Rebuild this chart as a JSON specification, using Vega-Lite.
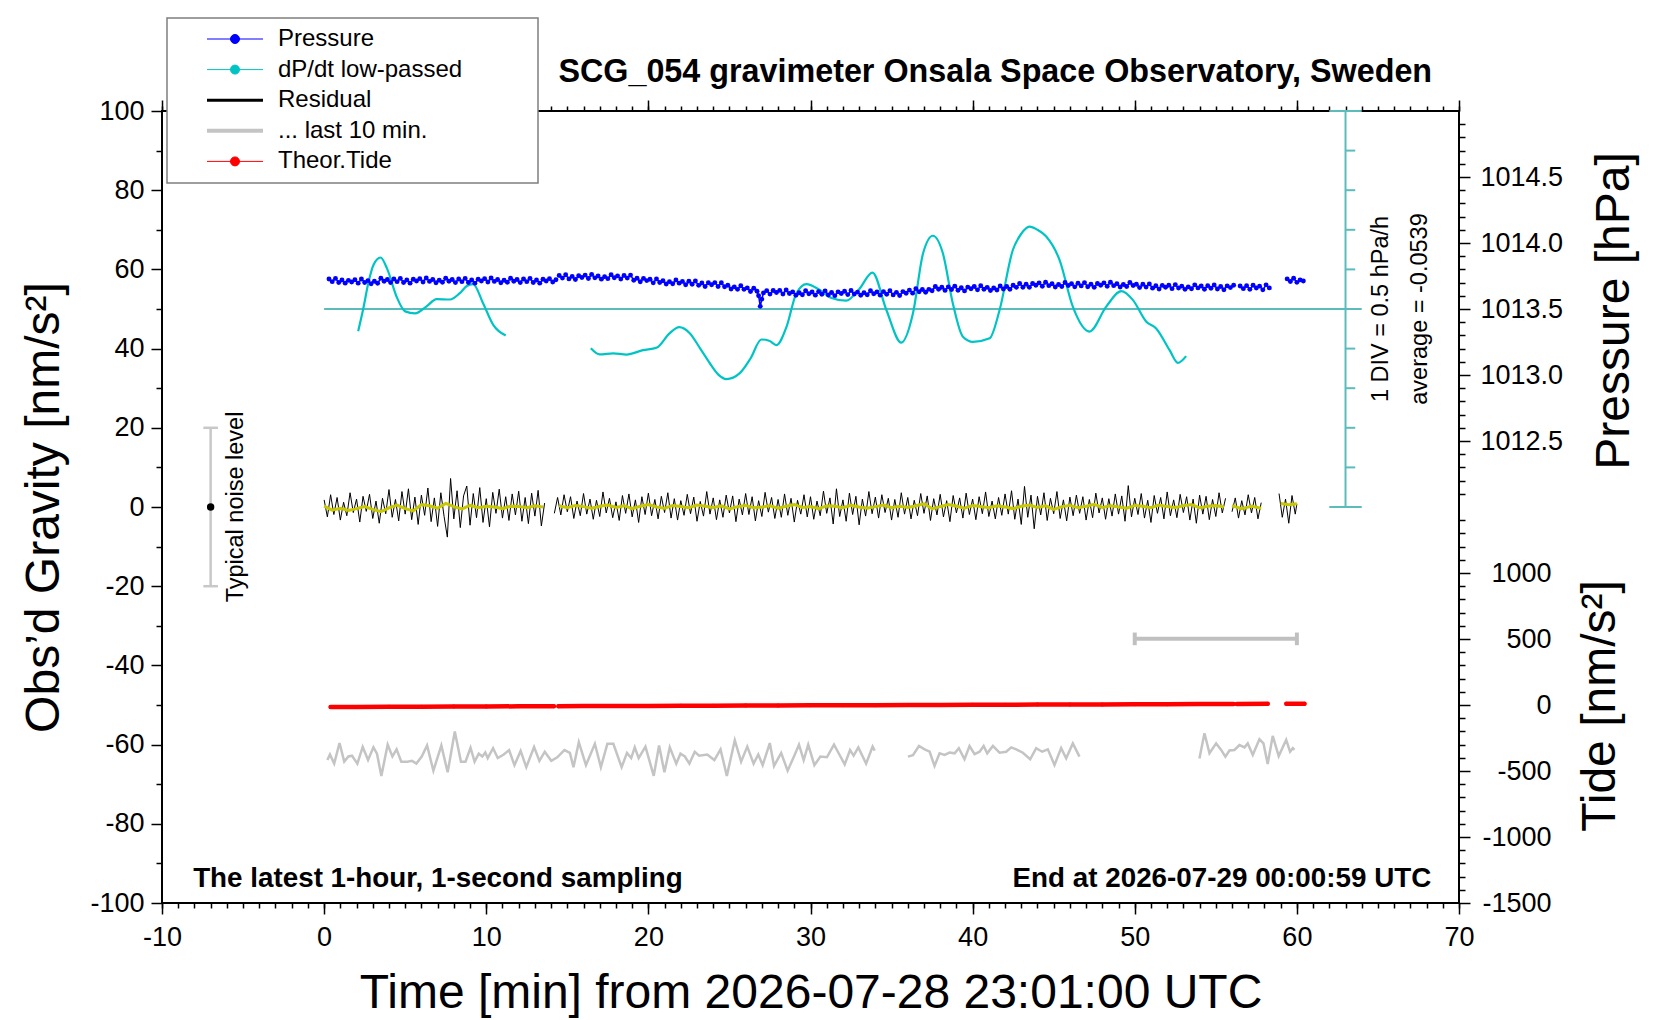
{
  "$schema": "https://vega.github.io/schema/vega-lite/v6.json",
  "width": 1297,
  "height": 792,
  "autosize": {"type": "none"},
  "padding": {"left": 162, "top": 111, "right": 201, "bottom": 117},
  "background": "white",
  "config": {
    "view": {"stroke": "black", "strokeWidth": 2},
    "font": "Liberation Sans",
    "axis": {
      "domain": false, "grid": false, "tickColor": "black", "tickWidth": 1.5,
      "labelFont": "Liberation Sans", "labelFontSize": 27, "labelColor": "black",
      "titleFont": "Liberation Sans", "titleFontSize": 48, "titleFontWeight": "normal", "titleColor": "black",
      "labelFlush": false, "labelOverlap": false
    },
    "legend": {
      "orient": "none", "legendX": 5, "legendY": -93, "padding": 9,
      "fillColor": "white", "strokeColor": "#7f7f7f", "strokeWidth": 1.5,
      "labelFont": "Liberation Sans", "labelFontSize": 24, "labelColor": "black", "labelLimit": 400,
      "symbolSize": 400, "symbolOffset": 47, "labelOffset": 31, "rowPadding": 6.6
    }
  },
  "resolve": {
    "scale": {"x": "shared", "y": "independent", "color": "shared"},
    "axis": {"x": "independent", "y": "independent"}
  },
  "datasets": {
    "cyanScale": [
      {"x": 0, "x2": 64, "y": 50, "y2": 50},
      {"x": 62, "x2": 64, "y": 0, "y2": 0},
      {"x": 62, "x2": 64, "y": 100, "y2": 100},
      {"x": 63, "x2": 63, "y": 0, "y2": 100},
      {"x": 63, "x2": 63.6, "y": 10, "y2": 10},
      {"x": 63, "x2": 63.6, "y": 20, "y2": 20},
      {"x": 63, "x2": 63.6, "y": 30, "y2": 30},
      {"x": 63, "x2": 63.6, "y": 40, "y2": 40},
      {"x": 63, "x2": 63.6, "y": 60, "y2": 60},
      {"x": 63, "x2": 63.6, "y": 70, "y2": 70},
      {"x": 63, "x2": 63.6, "y": 80, "y2": 80},
      {"x": 63, "x2": 63.6, "y": 90, "y2": 90}
    ],
    "dpdt": [
      {"t": 2.1, "v": -0.28, "s": 1}, {"t": 2.41, "v": 0, "s": 1}, {"t": 2.75, "v": 0.35, "s": 1}, {"t": 3.05, "v": 0.56, "s": 1},
      {"t": 3.48, "v": 0.65, "s": 1}, {"t": 3.9, "v": 0.5, "s": 1}, {"t": 4.47, "v": 0.155, "s": 1}, {"t": 5.0, "v": -0.03, "s": 1},
      {"t": 5.6, "v": -0.055, "s": 1}, {"t": 6.3, "v": 0.03, "s": 1}, {"t": 6.94, "v": 0.125, "s": 1}, {"t": 7.76, "v": 0.12, "s": 1},
      {"t": 8.37, "v": 0.2, "s": 1}, {"t": 8.8, "v": 0.29, "s": 1}, {"t": 9.19, "v": 0.315, "s": 1}, {"t": 9.81, "v": 0.07, "s": 1},
      {"t": 10.43, "v": -0.2, "s": 1}, {"t": 11.2, "v": -0.335, "s": 1},
      {"t": 16.45, "v": -0.495, "s": 2}, {"t": 17.0, "v": -0.573, "s": 2}, {"t": 17.83, "v": -0.56, "s": 2}, {"t": 18.65, "v": -0.575, "s": 2},
      {"t": 19.67, "v": -0.52, "s": 2}, {"t": 20.5, "v": -0.49, "s": 2}, {"t": 21.32, "v": -0.305, "s": 2}, {"t": 21.9, "v": -0.23, "s": 2},
      {"t": 22.55, "v": -0.305, "s": 2}, {"t": 23.2, "v": -0.5, "s": 2}, {"t": 23.79, "v": -0.685, "s": 2}, {"t": 24.3, "v": -0.825, "s": 2},
      {"t": 24.82, "v": -0.885, "s": 2}, {"t": 25.64, "v": -0.81, "s": 2}, {"t": 26.3, "v": -0.625, "s": 2}, {"t": 26.97, "v": -0.385, "s": 2},
      {"t": 27.45, "v": -0.4, "s": 2}, {"t": 27.9, "v": -0.455, "s": 2}, {"t": 28.52, "v": -0.225, "s": 2}, {"t": 29.13, "v": 0.2, "s": 2},
      {"t": 29.75, "v": 0.315, "s": 2}, {"t": 30.57, "v": 0.24, "s": 2}, {"t": 31.3, "v": 0.14, "s": 2}, {"t": 32.2, "v": 0.105, "s": 2},
      {"t": 33.0, "v": 0.25, "s": 2}, {"t": 33.82, "v": 0.46, "s": 2}, {"t": 34.68, "v": -0.013, "s": 2}, {"t": 35.6, "v": -0.425, "s": 2},
      {"t": 36.32, "v": -0.055, "s": 2}, {"t": 36.94, "v": 0.7, "s": 2}, {"t": 37.55, "v": 0.925, "s": 2}, {"t": 38.17, "v": 0.7, "s": 2},
      {"t": 38.78, "v": 0.07, "s": 2}, {"t": 39.4, "v": -0.35, "s": 2}, {"t": 40.02, "v": -0.415, "s": 2}, {"t": 41.05, "v": -0.37, "s": 2},
      {"t": 41.66, "v": -0.015, "s": 2}, {"t": 42.48, "v": 0.745, "s": 2}, {"t": 43.0, "v": 0.95, "s": 2}, {"t": 43.5, "v": 1.04, "s": 2},
      {"t": 44.0, "v": 1.0, "s": 2}, {"t": 44.54, "v": 0.915, "s": 2}, {"t": 45.36, "v": 0.62, "s": 2}, {"t": 46.18, "v": 0.03, "s": 2},
      {"t": 47.21, "v": -0.285, "s": 2}, {"t": 48.24, "v": 0.03, "s": 2}, {"t": 49.17, "v": 0.225, "s": 2}, {"t": 49.88, "v": 0.115, "s": 2},
      {"t": 50.71, "v": -0.16, "s": 2}, {"t": 51.32, "v": -0.245, "s": 2}, {"t": 52.15, "v": -0.52, "s": 2}, {"t": 52.66, "v": -0.68, "s": 2},
      {"t": 53.17, "v": -0.595, "s": 2}
    ],
    "pres": [
      {"t": 0.3, "p": 1013.727, "s": 1}, {"t": 0.5, "p": 1013.707, "s": 1}, {"t": 0.7, "p": 1013.732, "s": 1}, {"t": 0.9, "p": 1013.701, "s": 1},
      {"t": 1.1, "p": 1013.72, "s": 1}, {"t": 1.3, "p": 1013.696, "s": 1}, {"t": 1.5, "p": 1013.717, "s": 1}, {"t": 1.7, "p": 1013.704, "s": 1},
      {"t": 1.9, "p": 1013.722, "s": 1}, {"t": 2.1, "p": 1013.696, "s": 1}, {"t": 2.3, "p": 1013.727, "s": 1}, {"t": 2.5, "p": 1013.701, "s": 1},
      {"t": 2.7, "p": 1013.715, "s": 1}, {"t": 2.9, "p": 1013.691, "s": 1}, {"t": 3.1, "p": 1013.71, "s": 1}, {"t": 3.3, "p": 1013.695, "s": 1},
      {"t": 3.5, "p": 1013.733, "s": 1}, {"t": 3.7, "p": 1013.71, "s": 1}, {"t": 3.9, "p": 1013.724, "s": 1}, {"t": 4.1, "p": 1013.7, "s": 1},
      {"t": 4.3, "p": 1013.727, "s": 1}, {"t": 4.5, "p": 1013.707, "s": 1}, {"t": 4.7, "p": 1013.732, "s": 1}, {"t": 4.9, "p": 1013.701, "s": 1},
      {"t": 5.1, "p": 1013.72, "s": 1}, {"t": 5.3, "p": 1013.696, "s": 1}, {"t": 5.5, "p": 1013.725, "s": 1}, {"t": 5.7, "p": 1013.712, "s": 1},
      {"t": 5.9, "p": 1013.73, "s": 1}, {"t": 6.1, "p": 1013.704, "s": 1}, {"t": 6.3, "p": 1013.735, "s": 1}, {"t": 6.5, "p": 1013.709, "s": 1},
      {"t": 6.7, "p": 1013.723, "s": 1}, {"t": 6.9, "p": 1013.699, "s": 1}, {"t": 7.1, "p": 1013.718, "s": 1}, {"t": 7.3, "p": 1013.703, "s": 1},
      {"t": 7.5, "p": 1013.733, "s": 1}, {"t": 7.7, "p": 1013.71, "s": 1}, {"t": 7.9, "p": 1013.724, "s": 1}, {"t": 8.1, "p": 1013.7, "s": 1},
      {"t": 8.3, "p": 1013.727, "s": 1}, {"t": 8.5, "p": 1013.707, "s": 1}, {"t": 8.7, "p": 1013.732, "s": 1}, {"t": 8.9, "p": 1013.701, "s": 1},
      {"t": 9.1, "p": 1013.72, "s": 1}, {"t": 9.3, "p": 1013.696, "s": 1}, {"t": 9.5, "p": 1013.725, "s": 1}, {"t": 9.7, "p": 1013.712, "s": 1},
      {"t": 9.9, "p": 1013.73, "s": 1}, {"t": 10.1, "p": 1013.704, "s": 1}, {"t": 10.3, "p": 1013.735, "s": 1}, {"t": 10.5, "p": 1013.709, "s": 1},
      {"t": 10.7, "p": 1013.723, "s": 1}, {"t": 10.9, "p": 1013.699, "s": 1}, {"t": 11.1, "p": 1013.718, "s": 1}, {"t": 11.3, "p": 1013.703, "s": 1},
      {"t": 11.5, "p": 1013.733, "s": 1}, {"t": 11.7, "p": 1013.71, "s": 1}, {"t": 11.9, "p": 1013.724, "s": 1}, {"t": 12.1, "p": 1013.7, "s": 1},
      {"t": 12.3, "p": 1013.727, "s": 1}, {"t": 12.5, "p": 1013.707, "s": 1}, {"t": 12.7, "p": 1013.732, "s": 1}, {"t": 12.9, "p": 1013.701, "s": 1},
      {"t": 13.1, "p": 1013.72, "s": 1}, {"t": 13.3, "p": 1013.696, "s": 1}, {"t": 13.5, "p": 1013.725, "s": 1}, {"t": 13.7, "p": 1013.712, "s": 1},
      {"t": 13.9, "p": 1013.73, "s": 1}, {"t": 14.1, "p": 1013.704, "s": 1}, {"t": 14.3, "p": 1013.722, "s": 1},
      {"t": 14.5, "p": 1013.754, "s": 2}, {"t": 14.7, "p": 1013.734, "s": 2}, {"t": 14.9, "p": 1013.759, "s": 2}, {"t": 15.1, "p": 1013.728, "s": 2},
      {"t": 15.3, "p": 1013.747, "s": 2}, {"t": 15.5, "p": 1013.723, "s": 2}, {"t": 15.7, "p": 1013.752, "s": 2}, {"t": 15.9, "p": 1013.739, "s": 2},
      {"t": 16.1, "p": 1013.757, "s": 2}, {"t": 16.3, "p": 1013.731, "s": 2}, {"t": 16.5, "p": 1013.762, "s": 2}, {"t": 16.7, "p": 1013.736, "s": 2},
      {"t": 16.9, "p": 1013.75, "s": 2}, {"t": 17.1, "p": 1013.726, "s": 2}, {"t": 17.3, "p": 1013.745, "s": 2}, {"t": 17.5, "p": 1013.73, "s": 2},
      {"t": 17.7, "p": 1013.76, "s": 2}, {"t": 17.9, "p": 1013.737, "s": 2}, {"t": 18.1, "p": 1013.751, "s": 2}, {"t": 18.3, "p": 1013.727, "s": 2},
      {"t": 18.5, "p": 1013.754, "s": 2}, {"t": 18.7, "p": 1013.734, "s": 2}, {"t": 18.9, "p": 1013.757, "s": 2}, {"t": 19.1, "p": 1013.718, "s": 2},
      {"t": 19.3, "p": 1013.733, "s": 2}, {"t": 19.5, "p": 1013.706, "s": 2}, {"t": 19.7, "p": 1013.732, "s": 2}, {"t": 19.9, "p": 1013.715, "s": 2},
      {"t": 20.1, "p": 1013.725, "s": 2}, {"t": 20.3, "p": 1013.698, "s": 2}, {"t": 20.5, "p": 1013.728, "s": 2}, {"t": 20.7, "p": 1013.701, "s": 2},
      {"t": 20.9, "p": 1013.714, "s": 2}, {"t": 21.1, "p": 1013.689, "s": 2}, {"t": 21.3, "p": 1013.707, "s": 2}, {"t": 21.5, "p": 1013.691, "s": 2},
      {"t": 21.7, "p": 1013.72, "s": 2}, {"t": 21.9, "p": 1013.696, "s": 2}, {"t": 22.1, "p": 1013.709, "s": 2}, {"t": 22.3, "p": 1013.684, "s": 2},
      {"t": 22.5, "p": 1013.71, "s": 2}, {"t": 22.7, "p": 1013.688, "s": 2}, {"t": 22.9, "p": 1013.712, "s": 2}, {"t": 23.1, "p": 1013.679, "s": 2},
      {"t": 23.3, "p": 1013.697, "s": 2}, {"t": 23.5, "p": 1013.671, "s": 2}, {"t": 23.7, "p": 1013.699, "s": 2}, {"t": 23.9, "p": 1013.684, "s": 2},
      {"t": 24.1, "p": 1013.7, "s": 2}, {"t": 24.3, "p": 1013.671, "s": 2}, {"t": 24.5, "p": 1013.699, "s": 2}, {"t": 24.7, "p": 1013.669, "s": 2},
      {"t": 24.9, "p": 1013.68, "s": 2}, {"t": 25.1, "p": 1013.652, "s": 2}, {"t": 25.3, "p": 1013.668, "s": 2}, {"t": 25.5, "p": 1013.649, "s": 2},
      {"t": 25.7, "p": 1013.676, "s": 2}, {"t": 25.9, "p": 1013.649, "s": 2}, {"t": 26.1, "p": 1013.66, "s": 2}, {"t": 26.3, "p": 1013.633, "s": 2},
      {"t": 26.5, "p": 1013.657, "s": 2}, {"t": 26.7, "p": 1013.634, "s": 2}, {"t": 26.8, "p": 1013.6, "s": 2}, {"t": 26.9, "p": 1013.52, "s": 2},
      {"t": 27.0, "p": 1013.575, "s": 2}, {"t": 27.1, "p": 1013.622, "s": 2}, {"t": 27.3, "p": 1013.639, "s": 2}, {"t": 27.5, "p": 1013.613, "s": 2},
      {"t": 27.7, "p": 1013.64, "s": 2}, {"t": 27.9, "p": 1013.625, "s": 2}, {"t": 28.1, "p": 1013.641, "s": 2}, {"t": 28.3, "p": 1013.614, "s": 2},
      {"t": 28.5, "p": 1013.644, "s": 2}, {"t": 28.7, "p": 1013.617, "s": 2}, {"t": 28.9, "p": 1013.63, "s": 2}, {"t": 29.1, "p": 1013.604, "s": 2},
      {"t": 29.3, "p": 1013.623, "s": 2}, {"t": 29.5, "p": 1013.608, "s": 2}, {"t": 29.7, "p": 1013.638, "s": 2}, {"t": 29.9, "p": 1013.615, "s": 2},
      {"t": 30.1, "p": 1013.629, "s": 2}, {"t": 30.3, "p": 1013.605, "s": 2},
      {"t": 30.5, "p": 1013.632, "s": 2}, {"t": 30.7, "p": 1013.612, "s": 2}, {"t": 30.9, "p": 1013.637, "s": 2}, {"t": 31.1, "p": 1013.606, "s": 2},
      {"t": 31.3, "p": 1013.625, "s": 2}, {"t": 31.5, "p": 1013.601, "s": 2}, {"t": 31.7, "p": 1013.63, "s": 2}, {"t": 31.9, "p": 1013.617, "s": 2},
      {"t": 32.1, "p": 1013.635, "s": 2}, {"t": 32.3, "p": 1013.609, "s": 2}, {"t": 32.5, "p": 1013.64, "s": 2}, {"t": 32.7, "p": 1013.614, "s": 2},
      {"t": 32.9, "p": 1013.628, "s": 2}, {"t": 33.1, "p": 1013.604, "s": 2}, {"t": 33.3, "p": 1013.623, "s": 2}, {"t": 33.5, "p": 1013.608, "s": 2},
      {"t": 33.7, "p": 1013.638, "s": 2}, {"t": 33.9, "p": 1013.615, "s": 2}, {"t": 34.1, "p": 1013.629, "s": 2}, {"t": 34.3, "p": 1013.605, "s": 2},
      {"t": 34.5, "p": 1013.632, "s": 2}, {"t": 34.7, "p": 1013.612, "s": 2}, {"t": 34.9, "p": 1013.638, "s": 2}, {"t": 35.1, "p": 1013.607, "s": 2},
      {"t": 35.3, "p": 1013.626, "s": 2}, {"t": 35.5, "p": 1013.602, "s": 2}, {"t": 35.7, "p": 1013.632, "s": 2}, {"t": 35.9, "p": 1013.619, "s": 2},
      {"t": 36.1, "p": 1013.643, "s": 2}, {"t": 36.3, "p": 1013.62, "s": 2}, {"t": 36.5, "p": 1013.654, "s": 2}, {"t": 36.7, "p": 1013.631, "s": 2},
      {"t": 36.9, "p": 1013.648, "s": 2}, {"t": 37.1, "p": 1013.627, "s": 2}, {"t": 37.3, "p": 1013.649, "s": 2}, {"t": 37.5, "p": 1013.638, "s": 2},
      {"t": 37.7, "p": 1013.671, "s": 2}, {"t": 37.9, "p": 1013.65, "s": 2}, {"t": 38.1, "p": 1013.665, "s": 2}, {"t": 38.3, "p": 1013.641, "s": 2},
      {"t": 38.5, "p": 1013.668, "s": 2}, {"t": 38.7, "p": 1013.648, "s": 2}, {"t": 38.9, "p": 1013.673, "s": 2}, {"t": 39.1, "p": 1013.642, "s": 2},
      {"t": 39.3, "p": 1013.661, "s": 2}, {"t": 39.5, "p": 1013.637, "s": 2}, {"t": 39.7, "p": 1013.666, "s": 2}, {"t": 39.9, "p": 1013.653, "s": 2},
      {"t": 40.1, "p": 1013.671, "s": 2}, {"t": 40.3, "p": 1013.645, "s": 2}, {"t": 40.5, "p": 1013.676, "s": 2}, {"t": 40.7, "p": 1013.65, "s": 2},
      {"t": 40.9, "p": 1013.664, "s": 2}, {"t": 41.1, "p": 1013.64, "s": 2}, {"t": 41.3, "p": 1013.659, "s": 2}, {"t": 41.5, "p": 1013.644, "s": 2},
      {"t": 41.7, "p": 1013.674, "s": 2}, {"t": 41.9, "p": 1013.651, "s": 2}, {"t": 42.1, "p": 1013.671, "s": 2}, {"t": 42.3, "p": 1013.65, "s": 2},
      {"t": 42.5, "p": 1013.68, "s": 2}, {"t": 42.7, "p": 1013.664, "s": 2}, {"t": 42.9, "p": 1013.693, "s": 2}, {"t": 43.1, "p": 1013.665, "s": 2},
      {"t": 43.3, "p": 1013.687, "s": 2}, {"t": 43.5, "p": 1013.664, "s": 2}, {"t": 43.7, "p": 1013.693, "s": 2}, {"t": 43.9, "p": 1013.68, "s": 2},
      {"t": 44.1, "p": 1013.698, "s": 2}, {"t": 44.3, "p": 1013.672, "s": 2}, {"t": 44.5, "p": 1013.703, "s": 2}, {"t": 44.7, "p": 1013.677, "s": 2},
      {"t": 44.9, "p": 1013.691, "s": 2}, {"t": 45.1, "p": 1013.667, "s": 2}, {"t": 45.3, "p": 1013.686, "s": 2}, {"t": 45.5, "p": 1013.671, "s": 2},
      {"t": 45.7, "p": 1013.701, "s": 2}, {"t": 45.9, "p": 1013.678, "s": 2}, {"t": 46.1, "p": 1013.692, "s": 2}, {"t": 46.3, "p": 1013.668, "s": 2},
      {"t": 46.5, "p": 1013.695, "s": 2}, {"t": 46.7, "p": 1013.675, "s": 2}, {"t": 46.9, "p": 1013.7, "s": 2}, {"t": 47.1, "p": 1013.669, "s": 2},
      {"t": 47.3, "p": 1013.688, "s": 2}, {"t": 47.5, "p": 1013.664, "s": 2}, {"t": 47.7, "p": 1013.693, "s": 2}, {"t": 47.9, "p": 1013.68, "s": 2},
      {"t": 48.1, "p": 1013.698, "s": 2}, {"t": 48.3, "p": 1013.672, "s": 2}, {"t": 48.5, "p": 1013.703, "s": 2}, {"t": 48.7, "p": 1013.677, "s": 2},
      {"t": 48.9, "p": 1013.691, "s": 2}, {"t": 49.1, "p": 1013.667, "s": 2}, {"t": 49.3, "p": 1013.686, "s": 2}, {"t": 49.5, "p": 1013.671, "s": 2},
      {"t": 49.7, "p": 1013.701, "s": 2}, {"t": 49.9, "p": 1013.678, "s": 2}, {"t": 50.1, "p": 1013.688, "s": 2}, {"t": 50.3, "p": 1013.662, "s": 2},
      {"t": 50.5, "p": 1013.687, "s": 2}, {"t": 50.7, "p": 1013.666, "s": 2}, {"t": 50.9, "p": 1013.69, "s": 2}, {"t": 51.1, "p": 1013.658, "s": 2},
      {"t": 51.3, "p": 1013.676, "s": 2}, {"t": 51.5, "p": 1013.651, "s": 2}, {"t": 51.7, "p": 1013.679, "s": 2}, {"t": 51.9, "p": 1013.665, "s": 2},
      {"t": 52.1, "p": 1013.68, "s": 2}, {"t": 52.3, "p": 1013.654, "s": 2}, {"t": 52.5, "p": 1013.685, "s": 2}, {"t": 52.7, "p": 1013.659, "s": 2},
      {"t": 52.9, "p": 1013.673, "s": 2}, {"t": 53.1, "p": 1013.649, "s": 2}, {"t": 53.3, "p": 1013.668, "s": 2}, {"t": 53.5, "p": 1013.653, "s": 2},
      {"t": 53.7, "p": 1013.683, "s": 2}, {"t": 53.9, "p": 1013.66, "s": 2}, {"t": 54.1, "p": 1013.674, "s": 2}, {"t": 54.3, "p": 1013.65, "s": 2},
      {"t": 54.5, "p": 1013.677, "s": 2}, {"t": 54.7, "p": 1013.657, "s": 2}, {"t": 54.9, "p": 1013.682, "s": 2}, {"t": 55.1, "p": 1013.651, "s": 2},
      {"t": 55.3, "p": 1013.67, "s": 2}, {"t": 55.5, "p": 1013.646, "s": 2}, {"t": 55.7, "p": 1013.675, "s": 2}, {"t": 55.9, "p": 1013.662, "s": 2},
      {"t": 56.1, "p": 1013.68, "s": 2},
      {"t": 56.5, "p": 1013.674, "s": 3}, {"t": 56.7, "p": 1013.654, "s": 3}, {"t": 56.9, "p": 1013.677, "s": 3}, {"t": 57.1, "p": 1013.649, "s": 3},
      {"t": 57.3, "p": 1013.68, "s": 3}, {"t": 57.5, "p": 1013.659, "s": 3}, {"t": 57.7, "p": 1013.673, "s": 3}, {"t": 57.9, "p": 1013.645, "s": 3},
      {"t": 58.1, "p": 1013.683, "s": 3}, {"t": 58.3, "p": 1013.66, "s": 3},
      {"t": 59.4, "p": 1013.728, "s": 4}, {"t": 59.6, "p": 1013.708, "s": 4}, {"t": 59.8, "p": 1013.733, "s": 4}, {"t": 60.0, "p": 1013.702, "s": 4},
      {"t": 60.2, "p": 1013.721, "s": 4}, {"t": 60.4, "p": 1013.712, "s": 4}
    ],
    "res": [
      {"t": 0, "r": 1.8, "s": 1}, {"t": 0.2, "r": -2.5, "s": 1}, {"t": 0.4, "r": 3.1, "s": 1}, {"t": 0.6, "r": -1.9, "s": 1}, {"t": 0.8, "r": 2.4, "s": 1},
      {"t": 1, "r": -3.3, "s": 1}, {"t": 1.2, "r": 1.2, "s": 1}, {"t": 1.4, "r": -2.2, "s": 1}, {"t": 1.6, "r": 3.6, "s": 1}, {"t": 1.8, "r": -1.4, "s": 1},
      {"t": 2, "r": 2, "s": 1}, {"t": 2.2, "r": -3.8, "s": 1}, {"t": 2.4, "r": 2.7, "s": 1}, {"t": 2.6, "r": -1.1, "s": 1}, {"t": 2.8, "r": 3.2, "s": 1},
      {"t": 3, "r": -2.9, "s": 1}, {"t": 3.2, "r": 1.5, "s": 1}, {"t": 3.4, "r": -4.1, "s": 1}, {"t": 3.6, "r": 2.2, "s": 1}, {"t": 3.8, "r": -1.7, "s": 1},
      {"t": 4, "r": 4.4, "s": 1}, {"t": 4.2, "r": -2.6, "s": 1}, {"t": 4.4, "r": 1.9, "s": 1}, {"t": 4.6, "r": -3.5, "s": 1}, {"t": 4.8, "r": 3.9, "s": 1},
      {"t": 5, "r": -1.8, "s": 1}, {"t": 5.2, "r": 4.6, "s": 1}, {"t": 5.4, "r": -3.2, "s": 1}, {"t": 5.6, "r": 2.5, "s": 1}, {"t": 5.8, "r": -4.4, "s": 1},
      {"t": 6, "r": 3, "s": 1}, {"t": 6.2, "r": -2.1, "s": 1}, {"t": 6.4, "r": 4.8, "s": 1}, {"t": 6.6, "r": -3.7, "s": 1}, {"t": 6.8, "r": 2.3, "s": 1},
      {"t": 7, "r": -4.9, "s": 1}, {"t": 7.2, "r": 3.6, "s": 1}, {"t": 7.4, "r": -2.4, "s": 1}, {"t": 7.6, "r": -7.6, "s": 1}, {"t": 7.8, "r": 7.2, "s": 1},
      {"t": 8, "r": -3, "s": 1}, {"t": 8.2, "r": 4.1, "s": 1}, {"t": 8.4, "r": -5.2, "s": 1}, {"t": 8.6, "r": 2.8, "s": 1}, {"t": 8.8, "r": 5.3, "s": 1},
      {"t": 9, "r": -4.6, "s": 1}, {"t": 9.2, "r": 3.4, "s": 1}, {"t": 9.4, "r": -2.7, "s": 1}, {"t": 9.6, "r": 4.9, "s": 1}, {"t": 9.8, "r": -3.9, "s": 1},
      {"t": 10, "r": 2.1, "s": 1}, {"t": 10.2, "r": -5, "s": 1}, {"t": 10.4, "r": 3.7, "s": 1}, {"t": 10.6, "r": -1.6, "s": 1}, {"t": 10.8, "r": 4.5, "s": 1},
      {"t": 11, "r": -2.8, "s": 1}, {"t": 11.2, "r": 2.6, "s": 1}, {"t": 11.4, "r": -3.4, "s": 1}, {"t": 11.6, "r": 3.3, "s": 1}, {"t": 11.8, "r": -2, "s": 1},
      {"t": 12, "r": 4, "s": 1}, {"t": 12.2, "r": -3.6, "s": 1}, {"t": 12.4, "r": 2.4, "s": 1}, {"t": 12.6, "r": -4.2, "s": 1}, {"t": 12.8, "r": 3.5, "s": 1},
      {"t": 13, "r": -2.3, "s": 1}, {"t": 13.2, "r": 4.2, "s": 1}, {"t": 13.4, "r": -4.8, "s": 1}, {"t": 13.6, "r": 1, "s": 1},
      {"t": 14.2, "r": -1.6, "s": 2}, {"t": 14.4, "r": 2.4, "s": 2}, {"t": 14.6, "r": -2.0, "s": 2}, {"t": 14.8, "r": 3.1, "s": 2}, {"t": 15.0, "r": -1.2, "s": 2},
      {"t": 15.2, "r": 2.6, "s": 2}, {"t": 15.4, "r": -2.9, "s": 2}, {"t": 15.6, "r": 1.5, "s": 2}, {"t": 15.8, "r": -2.2, "s": 2}, {"t": 16.0, "r": 3.4, "s": 2},
      {"t": 16.2, "r": -1.8, "s": 2}, {"t": 16.4, "r": 2.0, "s": 2}, {"t": 16.6, "r": -3.1, "s": 2}, {"t": 16.8, "r": 1.7, "s": 2}, {"t": 17.0, "r": -2.4, "s": 2},
      {"t": 17.2, "r": 3.8, "s": 2}, {"t": 17.4, "r": -1.5, "s": 2}, {"t": 17.6, "r": 2.2, "s": 2}, {"t": 17.8, "r": -2.7, "s": 2}, {"t": 18.0, "r": 1.3, "s": 2},
      {"t": 18.2, "r": -3.4, "s": 2}, {"t": 18.4, "r": 2.9, "s": 2}, {"t": 18.6, "r": -1.6, "s": 2}, {"t": 18.8, "r": 3.3, "s": 2}, {"t": 19.0, "r": -2.5, "s": 2},
      {"t": 19.2, "r": 1.8, "s": 2}, {"t": 19.4, "r": -3.9, "s": 2}, {"t": 19.6, "r": 2.6, "s": 2}, {"t": 19.8, "r": -1.9, "s": 2}, {"t": 20.0, "r": 3.5, "s": 2},
      {"t": 20.2, "r": -2.2, "s": 2}, {"t": 20.4, "r": 1.9, "s": 2}, {"t": 20.6, "r": -3.0, "s": 2}, {"t": 20.8, "r": 2.7, "s": 2}, {"t": 21.0, "r": -1.4, "s": 2},
      {"t": 21.2, "r": 3.6, "s": 2}, {"t": 21.4, "r": -2.8, "s": 2}, {"t": 21.6, "r": 2.1, "s": 2}, {"t": 21.8, "r": -3.3, "s": 2}, {"t": 22.0, "r": 1.6, "s": 2},
      {"t": 22.2, "r": -2.1, "s": 2}, {"t": 22.4, "r": 3.2, "s": 2}, {"t": 22.6, "r": -1.7, "s": 2}, {"t": 22.8, "r": 2.5, "s": 2}, {"t": 23.0, "r": -3.6, "s": 2},
      {"t": 23.2, "r": 1.4, "s": 2}, {"t": 23.4, "r": -2.3, "s": 2}, {"t": 23.6, "r": 3.9, "s": 2}, {"t": 23.8, "r": -1.8, "s": 2}, {"t": 24.0, "r": 2.3, "s": 2},
      {"t": 24.2, "r": -3.2, "s": 2}, {"t": 24.4, "r": 1.8, "s": 2}, {"t": 24.6, "r": -2.6, "s": 2}, {"t": 24.8, "r": 3.0, "s": 2}, {"t": 25.0, "r": -1.5, "s": 2},
      {"t": 25.2, "r": 2.8, "s": 2}, {"t": 25.4, "r": -3.7, "s": 2}, {"t": 25.6, "r": 2.0, "s": 2}, {"t": 25.8, "r": -2.0, "s": 2}, {"t": 26.0, "r": 3.4, "s": 2},
      {"t": 26.2, "r": -1.9, "s": 2}, {"t": 26.4, "r": 2.6, "s": 2}, {"t": 26.6, "r": -3.5, "s": 2}, {"t": 26.8, "r": 1.6, "s": 2}, {"t": 27.0, "r": -2.4, "s": 2},
      {"t": 27.2, "r": 3.7, "s": 2}, {"t": 27.4, "r": -1.3, "s": 2}, {"t": 27.6, "r": 2.4, "s": 2}, {"t": 27.8, "r": -2.9, "s": 2}, {"t": 28.0, "r": 1.9, "s": 2},
      {"t": 28.2, "r": -2.6, "s": 2}, {"t": 28.4, "r": 3.3, "s": 2}, {"t": 28.6, "r": -2.1, "s": 2}, {"t": 28.8, "r": 2.2, "s": 2}, {"t": 29.0, "r": -3.8, "s": 2},
      {"t": 29.2, "r": 1.7, "s": 2}, {"t": 29.4, "r": -1.8, "s": 2}, {"t": 29.6, "r": 3.1, "s": 2}, {"t": 29.8, "r": -2.5, "s": 2}, {"t": 30.0, "r": 2.6, "s": 2},
      {"t": 30.2, "r": -3.1, "s": 2}, {"t": 30.4, "r": 1.5, "s": 2}, {"t": 30.6, "r": -2.2, "s": 2}, {"t": 30.8, "r": 4.0, "s": 2}, {"t": 31.0, "r": -1.6, "s": 2},
      {"t": 31.2, "r": 2.3, "s": 2}, {"t": 31.4, "r": -4.3, "s": 2}, {"t": 31.6, "r": 4.6, "s": 2}, {"t": 31.8, "r": -2.4, "s": 2}, {"t": 32.0, "r": 1.8, "s": 2},
      {"t": 32.2, "r": -3.6, "s": 2}, {"t": 32.4, "r": 3.5, "s": 2}, {"t": 32.6, "r": -1.9, "s": 2}, {"t": 32.8, "r": 2.7, "s": 2}, {"t": 33.0, "r": -4.5, "s": 2},
      {"t": 33.2, "r": 2.0, "s": 2}, {"t": 33.4, "r": -2.3, "s": 2}, {"t": 33.6, "r": 3.9, "s": 2}, {"t": 33.8, "r": -1.7, "s": 2}, {"t": 34.0, "r": 2.5, "s": 2},
      {"t": 34.2, "r": -2.8, "s": 2}, {"t": 34.4, "r": 3.1, "s": 2}, {"t": 34.6, "r": -1.4, "s": 2}, {"t": 34.8, "r": 2.2, "s": 2}, {"t": 35.0, "r": -3.3, "s": 2},
      {"t": 35.2, "r": 1.9, "s": 2}, {"t": 35.4, "r": -2.6, "s": 2}, {"t": 35.6, "r": 3.6, "s": 2}, {"t": 35.8, "r": -1.8, "s": 2}, {"t": 36.0, "r": 2.4, "s": 2},
      {"t": 36.2, "r": -3.0, "s": 2}, {"t": 36.4, "r": 1.7, "s": 2}, {"t": 36.6, "r": -2.2, "s": 2}, {"t": 36.8, "r": 3.4, "s": 2}, {"t": 37.0, "r": -1.6, "s": 2},
      {"t": 37.2, "r": 2.8, "s": 2}, {"t": 37.4, "r": -3.4, "s": 2}, {"t": 37.6, "r": 2.1, "s": 2}, {"t": 37.8, "r": -2.0, "s": 2}, {"t": 38.0, "r": 3.2, "s": 2},
      {"t": 38.2, "r": -2.5, "s": 2}, {"t": 38.4, "r": 1.6, "s": 2}, {"t": 38.6, "r": -3.7, "s": 2}, {"t": 38.8, "r": 2.9, "s": 2}, {"t": 39.0, "r": -1.5, "s": 2},
      {"t": 39.2, "r": 2.3, "s": 2}, {"t": 39.4, "r": -2.8, "s": 2}, {"t": 39.6, "r": 3.5, "s": 2}, {"t": 39.8, "r": -1.9, "s": 2}, {"t": 40.0, "r": 2.0, "s": 2},
      {"t": 40.2, "r": -3.2, "s": 2}, {"t": 40.4, "r": 2.6, "s": 2}, {"t": 40.6, "r": -1.7, "s": 2}, {"t": 40.8, "r": 3.8, "s": 2}, {"t": 41.0, "r": -2.4, "s": 2},
      {"t": 41.2, "r": 1.5, "s": 2}, {"t": 41.4, "r": -3.0, "s": 2}, {"t": 41.6, "r": 2.4, "s": 2}, {"t": 41.8, "r": -2.1, "s": 2}, {"t": 42.0, "r": 3.3, "s": 2},
      {"t": 42.2, "r": -1.8, "s": 2}, {"t": 42.4, "r": 4.1, "s": 2}, {"t": 42.6, "r": -3.1, "s": 2}, {"t": 42.8, "r": 2.0, "s": 2}, {"t": 43.0, "r": -4.4, "s": 2},
      {"t": 43.2, "r": 5.2, "s": 2}, {"t": 43.4, "r": -2.6, "s": 2}, {"t": 43.6, "r": 3.0, "s": 2}, {"t": 43.8, "r": -5.5, "s": 2}, {"t": 44.0, "r": 2.7, "s": 2},
      {"t": 44.2, "r": -2.0, "s": 2}, {"t": 44.4, "r": 3.6, "s": 2}, {"t": 44.6, "r": -3.4, "s": 2}, {"t": 44.8, "r": 2.2, "s": 2}, {"t": 45.0, "r": -1.7, "s": 2},
      {"t": 45.2, "r": 3.9, "s": 2}, {"t": 45.4, "r": -2.9, "s": 2}, {"t": 45.6, "r": 1.8, "s": 2}, {"t": 45.8, "r": -3.5, "s": 2}, {"t": 46.0, "r": 2.5, "s": 2},
      {"t": 46.2, "r": -2.2, "s": 2}, {"t": 46.4, "r": 3.0, "s": 2}, {"t": 46.6, "r": -1.6, "s": 2}, {"t": 46.8, "r": 2.6, "s": 2}, {"t": 47.0, "r": -3.3, "s": 2},
      {"t": 47.2, "r": 1.9, "s": 2}, {"t": 47.4, "r": -2.7, "s": 2}, {"t": 47.6, "r": 3.5, "s": 2}, {"t": 47.8, "r": -1.5, "s": 2}, {"t": 48.0, "r": 2.3, "s": 2},
      {"t": 48.2, "r": -3.1, "s": 2}, {"t": 48.4, "r": 2.1, "s": 2}, {"t": 48.6, "r": -2.3, "s": 2}, {"t": 48.8, "r": 3.3, "s": 2}, {"t": 49.0, "r": -1.8, "s": 2},
      {"t": 49.2, "r": 2.8, "s": 2}, {"t": 49.4, "r": -3.6, "s": 2}, {"t": 49.6, "r": 5.4, "s": 2}, {"t": 49.8, "r": -2.5, "s": 2}, {"t": 50.0, "r": 2.2, "s": 2},
      {"t": 50.2, "r": -1.9, "s": 2}, {"t": 50.4, "r": 3.4, "s": 2}, {"t": 50.6, "r": -2.8, "s": 2}, {"t": 50.8, "r": 1.7, "s": 2}, {"t": 51.0, "r": -3.9, "s": 2},
      {"t": 51.2, "r": 2.9, "s": 2}, {"t": 51.4, "r": -1.6, "s": 2}, {"t": 51.6, "r": 2.4, "s": 2}, {"t": 51.8, "r": -3.0, "s": 2}, {"t": 52.0, "r": 3.8, "s": 2},
      {"t": 52.2, "r": -2.2, "s": 2}, {"t": 52.4, "r": 1.8, "s": 2}, {"t": 52.6, "r": -2.7, "s": 2}, {"t": 52.8, "r": 3.2, "s": 2}, {"t": 53.0, "r": -1.4, "s": 2},
      {"t": 53.2, "r": 2.6, "s": 2}, {"t": 53.4, "r": -3.3, "s": 2}, {"t": 53.6, "r": 2.0, "s": 2}, {"t": 53.8, "r": -4.1, "s": 2}, {"t": 54.0, "r": 3.0, "s": 2},
      {"t": 54.2, "r": -1.8, "s": 2}, {"t": 54.4, "r": 2.7, "s": 2}, {"t": 54.6, "r": -3.2, "s": 2}, {"t": 54.8, "r": 1.9, "s": 2}, {"t": 55.0, "r": -2.4, "s": 2},
      {"t": 55.2, "r": 3.6, "s": 2}, {"t": 55.4, "r": -1.5, "s": 2}, {"t": 55.6, "r": 2.2, "s": 2},
      {"t": 56.0, "r": -1.2, "s": 3}, {"t": 56.2, "r": 2.3, "s": 3}, {"t": 56.4, "r": -2.8, "s": 3}, {"t": 56.6, "r": 1.6, "s": 3}, {"t": 56.8, "r": -2.0, "s": 3},
      {"t": 57.0, "r": 3.1, "s": 3}, {"t": 57.2, "r": -1.5, "s": 3}, {"t": 57.4, "r": 2.4, "s": 3}, {"t": 57.6, "r": -3.0, "s": 3}, {"t": 57.8, "r": 1.1, "s": 3},
      {"t": 58.9, "r": 3.4, "s": 4}, {"t": 59.1, "r": -2.6, "s": 4}, {"t": 59.3, "r": 2.0, "s": 4}, {"t": 59.5, "r": -4.1, "s": 4}, {"t": 59.7, "r": 2.9, "s": 4},
      {"t": 59.9, "r": -1.8, "s": 4}, {"t": 60.0, "r": 0.8, "s": 4}
    ],
    "yel": [
      {"t": 0, "r": 0.2, "s": 1}, {"t": 0.5, "r": -0.8, "s": 1}, {"t": 1, "r": -0.3, "s": 1}, {"t": 1.5, "r": -0.9, "s": 1}, {"t": 2, "r": -0.4, "s": 1},
      {"t": 2.5, "r": 0.1, "s": 1}, {"t": 3, "r": -0.6, "s": 1}, {"t": 3.5, "r": -1.2, "s": 1}, {"t": 4, "r": -0.2, "s": 1}, {"t": 4.5, "r": 0.5, "s": 1},
      {"t": 5, "r": -0.4, "s": 1}, {"t": 5.5, "r": -1.0, "s": 1}, {"t": 6, "r": 0.6, "s": 1}, {"t": 6.5, "r": 0.3, "s": 1}, {"t": 7, "r": -0.3, "s": 1},
      {"t": 7.5, "r": 0.9, "s": 1}, {"t": 8, "r": 0.1, "s": 1}, {"t": 8.5, "r": -0.5, "s": 1}, {"t": 9, "r": 0.4, "s": 1}, {"t": 9.5, "r": -0.2, "s": 1},
      {"t": 10, "r": 0.2, "s": 1}, {"t": 10.5, "r": 0.0, "s": 1}, {"t": 11, "r": -0.4, "s": 1}, {"t": 11.5, "r": 0.2, "s": 1}, {"t": 12, "r": 0.1, "s": 1},
      {"t": 12.5, "r": -0.2, "s": 1}, {"t": 13, "r": 0.3, "s": 1}, {"t": 13.5, "r": 0.0, "s": 1},
      {"t": 14.5, "r": 0.3, "s": 2}, {"t": 15, "r": -0.2, "s": 2}, {"t": 15.5, "r": 0.4, "s": 2}, {"t": 16, "r": 0.1, "s": 2}, {"t": 16.5, "r": -0.3, "s": 2},
      {"t": 17, "r": 0.2, "s": 2}, {"t": 17.5, "r": 0.5, "s": 2}, {"t": 18, "r": -0.1, "s": 2}, {"t": 18.5, "r": 0.3, "s": 2}, {"t": 19, "r": -0.4, "s": 2},
      {"t": 19.5, "r": 0.2, "s": 2}, {"t": 20, "r": 0.6, "s": 2}, {"t": 20.5, "r": 0.0, "s": 2}, {"t": 21, "r": -0.3, "s": 2}, {"t": 21.5, "r": 0.4, "s": 2},
      {"t": 22, "r": 0.1, "s": 2}, {"t": 22.5, "r": -0.2, "s": 2}, {"t": 23, "r": 0.5, "s": 2}, {"t": 23.5, "r": 0.2, "s": 2}, {"t": 24, "r": -0.1, "s": 2},
      {"t": 24.5, "r": 0.3, "s": 2}, {"t": 25, "r": -0.5, "s": 2}, {"t": 25.5, "r": 0.1, "s": 2}, {"t": 26, "r": 0.4, "s": 2}, {"t": 26.5, "r": -0.2, "s": 2},
      {"t": 27, "r": 0.0, "s": 2}, {"t": 27.5, "r": 0.3, "s": 2}, {"t": 28, "r": -0.3, "s": 2}, {"t": 28.5, "r": 0.2, "s": 2}, {"t": 29, "r": 0.6, "s": 2},
      {"t": 29.5, "r": -0.1, "s": 2}, {"t": 30, "r": 0.1, "s": 2}, {"t": 30.5, "r": -0.4, "s": 2}, {"t": 31, "r": 0.3, "s": 2}, {"t": 31.5, "r": 0.2, "s": 2},
      {"t": 32, "r": -0.2, "s": 2}, {"t": 32.5, "r": 0.4, "s": 2}, {"t": 33, "r": 0.0, "s": 2}, {"t": 33.5, "r": -0.3, "s": 2}, {"t": 34, "r": 0.1, "s": 2},
      {"t": 34.5, "r": 0.5, "s": 2}, {"t": 35, "r": -0.2, "s": 2}, {"t": 35.5, "r": 0.2, "s": 2}, {"t": 36, "r": -0.1, "s": 2}, {"t": 36.5, "r": 0.3, "s": 2},
      {"t": 37, "r": 0.8, "s": 2}, {"t": 37.5, "r": -0.4, "s": 2}, {"t": 38, "r": 0.1, "s": 2}, {"t": 38.5, "r": 0.6, "s": 2}, {"t": 39, "r": 0.2, "s": 2},
      {"t": 39.5, "r": -0.3, "s": 2}, {"t": 40, "r": 0.4, "s": 2}, {"t": 40.5, "r": 0.1, "s": 2}, {"t": 41, "r": -0.2, "s": 2}, {"t": 41.5, "r": 0.3, "s": 2},
      {"t": 42, "r": 0.0, "s": 2}, {"t": 42.5, "r": -0.4, "s": 2}, {"t": 43, "r": 0.2, "s": 2}, {"t": 43.5, "r": 0.5, "s": 2}, {"t": 44, "r": -0.1, "s": 2},
      {"t": 44.5, "r": 0.3, "s": 2}, {"t": 45, "r": -0.6, "s": 2}, {"t": 45.5, "r": 0.1, "s": 2}, {"t": 46, "r": 0.4, "s": 2}, {"t": 46.5, "r": -0.2, "s": 2},
      {"t": 47, "r": 0.2, "s": 2}, {"t": 47.5, "r": 0.7, "s": 2}, {"t": 48, "r": -0.1, "s": 2}, {"t": 48.5, "r": 0.3, "s": 2}, {"t": 49, "r": 0.0, "s": 2},
      {"t": 49.5, "r": -0.3, "s": 2}, {"t": 50, "r": 0.4, "s": 2}, {"t": 50.5, "r": 0.2, "s": 2}, {"t": 51, "r": -0.2, "s": 2}, {"t": 51.5, "r": 0.5, "s": 2},
      {"t": 52, "r": 0.1, "s": 2}, {"t": 52.5, "r": -0.1, "s": 2}, {"t": 53, "r": 0.3, "s": 2}, {"t": 53.5, "r": 0.6, "s": 2}, {"t": 54, "r": -0.2, "s": 2},
      {"t": 54.5, "r": 0.2, "s": 2}, {"t": 55, "r": 0.4, "s": 2}, {"t": 55.5, "r": 0.0, "s": 2},
      {"t": 56.0, "r": 0.3, "s": 3}, {"t": 56.6, "r": -0.4, "s": 3}, {"t": 57.2, "r": 0.2, "s": 3}, {"t": 57.8, "r": -0.3, "s": 3},
      {"t": 59.0, "r": 0.9, "s": 4}, {"t": 59.5, "r": 0.6, "s": 4}, {"t": 60.0, "r": 0.8, "s": 4}
    ],
    "last": [
      {"t": 0.2, "g": -63.9, "s": 1}, {"t": 0.36, "g": -62.5, "s": 1}, {"t": 0.62, "g": -64.8, "s": 1}, {"t": 0.95, "g": -59.6, "s": 1},
      {"t": 1.24, "g": -64.3, "s": 1}, {"t": 1.5, "g": -63, "s": 1}, {"t": 1.72, "g": -62.8, "s": 1}, {"t": 2.05, "g": -64.8, "s": 1},
      {"t": 2.38, "g": -60.6, "s": 1}, {"t": 2.71, "g": -63.9, "s": 1}, {"t": 3.04, "g": -60.7, "s": 1}, {"t": 3.26, "g": -62.3, "s": 1},
      {"t": 3.53, "g": -67.9, "s": 1}, {"t": 3.92, "g": -60, "s": 1}, {"t": 4.21, "g": -63, "s": 1}, {"t": 4.47, "g": -61.2, "s": 1},
      {"t": 4.76, "g": -64.3, "s": 1}, {"t": 5.14, "g": -64.3, "s": 1}, {"t": 5.42, "g": -64.1, "s": 1}, {"t": 5.69, "g": -64.8, "s": 1},
      {"t": 6.02, "g": -63, "s": 1}, {"t": 6.35, "g": -60.2, "s": 1}, {"t": 6.74, "g": -66.6, "s": 1}, {"t": 7.23, "g": -60.2, "s": 1},
      {"t": 7.62, "g": -67, "s": 1}, {"t": 8.06, "g": -56.7, "s": 1}, {"t": 8.44, "g": -64.3, "s": 1}, {"t": 8.72, "g": -64.3, "s": 1},
      {"t": 9.03, "g": -60.8, "s": 1}, {"t": 9.28, "g": -64.3, "s": 1}, {"t": 9.54, "g": -62.3, "s": 1}, {"t": 9.76, "g": -63, "s": 1},
      {"t": 9.94, "g": -62, "s": 1}, {"t": 10.09, "g": -63.4, "s": 1}, {"t": 10.42, "g": -60.9, "s": 1}, {"t": 10.71, "g": -63.4, "s": 1},
      {"t": 11.08, "g": -62.5, "s": 1}, {"t": 11.41, "g": -61.4, "s": 1}, {"t": 11.74, "g": -65.2, "s": 1}, {"t": 12.12, "g": -61.6, "s": 1},
      {"t": 12.47, "g": -65.7, "s": 1}, {"t": 12.95, "g": -60.6, "s": 1}, {"t": 13.28, "g": -64.1, "s": 1}, {"t": 13.61, "g": -61.8, "s": 1},
      {"t": 14.01, "g": -64.1, "s": 1}, {"t": 14.38, "g": -63.2, "s": 1}, {"t": 14.82, "g": -61.4, "s": 1}, {"t": 15.16, "g": -62.1, "s": 1},
      {"t": 15.38, "g": -65.7, "s": 1}, {"t": 15.71, "g": -59.4, "s": 1}, {"t": 16.15, "g": -65.2, "s": 1}, {"t": 16.7, "g": -59.8, "s": 1},
      {"t": 17.07, "g": -65.7, "s": 1}, {"t": 17.47, "g": -59.8, "s": 1}, {"t": 17.84, "g": -59.8, "s": 1}, {"t": 18.35, "g": -65.7, "s": 1},
      {"t": 18.68, "g": -62.1, "s": 1}, {"t": 18.94, "g": -63.4, "s": 1}, {"t": 19.16, "g": -60.7, "s": 1}, {"t": 19.4, "g": -63.4, "s": 1},
      {"t": 19.82, "g": -60.5, "s": 1}, {"t": 20.33, "g": -67.9, "s": 1}, {"t": 20.66, "g": -60.2, "s": 1}, {"t": 20.99, "g": -67, "s": 1},
      {"t": 21.32, "g": -60.7, "s": 1}, {"t": 21.72, "g": -64.8, "s": 1}, {"t": 21.98, "g": -62.3, "s": 1}, {"t": 22.25, "g": -63, "s": 1},
      {"t": 22.53, "g": -64.8, "s": 1}, {"t": 22.86, "g": -61.8, "s": 1}, {"t": 23.13, "g": -62.8, "s": 1}, {"t": 23.63, "g": -62.5, "s": 1},
      {"t": 24.07, "g": -63.9, "s": 1}, {"t": 24.45, "g": -61.2, "s": 1}, {"t": 24.84, "g": -67.9, "s": 1}, {"t": 25.33, "g": -58.9, "s": 1},
      {"t": 25.72, "g": -64.3, "s": 1}, {"t": 26.1, "g": -60.5, "s": 1}, {"t": 26.49, "g": -64.8, "s": 1}, {"t": 26.78, "g": -62.5, "s": 1},
      {"t": 27.05, "g": -65.2, "s": 1}, {"t": 27.49, "g": -59.6, "s": 1}, {"t": 27.75, "g": -65.4, "s": 1}, {"t": 28.19, "g": -62.1, "s": 1},
      {"t": 28.59, "g": -66.6, "s": 1}, {"t": 28.98, "g": -63, "s": 1}, {"t": 29.29, "g": -60, "s": 1}, {"t": 29.58, "g": -63.9, "s": 1},
      {"t": 29.86, "g": -60, "s": 1}, {"t": 30.24, "g": -65.2, "s": 1}, {"t": 30.61, "g": -63, "s": 1}, {"t": 31.01, "g": -63.2, "s": 1},
      {"t": 31.45, "g": -60, "s": 1}, {"t": 31.78, "g": -62.5, "s": 1}, {"t": 32.11, "g": -65, "s": 1}, {"t": 32.44, "g": -61.4, "s": 1},
      {"t": 32.66, "g": -62.8, "s": 1}, {"t": 32.95, "g": -60.7, "s": 1}, {"t": 33.43, "g": -64.8, "s": 1}, {"t": 33.83, "g": -60.5, "s": 1},
      {"t": 33.96, "g": -61.5, "s": 1},
      {"t": 36.01, "g": -63.05, "s": 2}, {"t": 36.32, "g": -62.65, "s": 2}, {"t": 36.69, "g": -60.35, "s": 2}, {"t": 37.04, "g": -61.2, "s": 2},
      {"t": 37.35, "g": -61.8, "s": 2}, {"t": 37.65, "g": -65.4, "s": 2}, {"t": 37.96, "g": -62.2, "s": 2}, {"t": 38.27, "g": -62.6, "s": 2},
      {"t": 38.58, "g": -62.0, "s": 2}, {"t": 38.89, "g": -62.2, "s": 2}, {"t": 39.15, "g": -60.9, "s": 2}, {"t": 39.5, "g": -63.7, "s": 2},
      {"t": 39.81, "g": -60.35, "s": 2}, {"t": 40.12, "g": -62.4, "s": 2}, {"t": 40.43, "g": -61.8, "s": 2}, {"t": 40.68, "g": -60.35, "s": 2},
      {"t": 40.9, "g": -62.2, "s": 2}, {"t": 41.25, "g": -60.35, "s": 2}, {"t": 41.66, "g": -62.05, "s": 2}, {"t": 42.07, "g": -61.8, "s": 2},
      {"t": 42.38, "g": -60.7, "s": 2}, {"t": 42.69, "g": -61.2, "s": 2}, {"t": 43.1, "g": -62.05, "s": 2}, {"t": 43.55, "g": -63.7, "s": 2},
      {"t": 43.92, "g": -60.9, "s": 2}, {"t": 44.29, "g": -61.8, "s": 2}, {"t": 44.64, "g": -61.2, "s": 2}, {"t": 45.05, "g": -65.15, "s": 2},
      {"t": 45.46, "g": -60.9, "s": 2}, {"t": 45.77, "g": -63.45, "s": 2}, {"t": 46.18, "g": -59.7, "s": 2}, {"t": 46.59, "g": -63.05, "s": 2},
      {"t": 53.99, "g": -63.5, "s": 3}, {"t": 54.3, "g": -57.15, "s": 3}, {"t": 54.61, "g": -62.2, "s": 3}, {"t": 55.02, "g": -59.7, "s": 3},
      {"t": 55.33, "g": -61.35, "s": 3}, {"t": 55.59, "g": -63.05, "s": 3}, {"t": 55.84, "g": -61.5, "s": 3}, {"t": 56.15, "g": -61.35, "s": 3},
      {"t": 56.46, "g": -60.1, "s": 3}, {"t": 56.77, "g": -60.7, "s": 3}, {"t": 56.97, "g": -59.7, "s": 3}, {"t": 57.28, "g": -62.6, "s": 3},
      {"t": 57.69, "g": -58.65, "s": 3}, {"t": 57.94, "g": -59.7, "s": 3}, {"t": 58.2, "g": -64.9, "s": 3}, {"t": 58.51, "g": -57.8, "s": 3},
      {"t": 58.88, "g": -62.9, "s": 3}, {"t": 59.34, "g": -58.8, "s": 3}, {"t": 59.58, "g": -61.8, "s": 3}, {"t": 59.75, "g": -60.9, "s": 3},
      {"t": 59.85, "g": -61.35, "s": 3}
    ],
    "grayBar": [
      {"x": 50, "x2": 60, "y": -33.3, "y2": -33.3},
      {"x": 50, "x2": 50, "y": -34.9, "y2": -31.7},
      {"x": 60, "x2": 60, "y": -34.9, "y2": -31.7}
    ],
    "tide": [
      {"t": 0.4, "v": -15, "s": 1}, {"t": 2, "v": -14.3, "s": 1}, {"t": 4, "v": -13.5, "s": 1}, {"t": 6, "v": -12.7, "s": 1},
      {"t": 8, "v": -11.8, "s": 1}, {"t": 10, "v": -11, "s": 1}, {"t": 12, "v": -10.2, "s": 1}, {"t": 14.17, "v": -9.3, "s": 1},
      {"t": 14.45, "v": -9.2, "s": 2}, {"t": 16, "v": -8.5, "s": 2}, {"t": 18, "v": -7.7, "s": 2}, {"t": 20, "v": -6.8, "s": 2},
      {"t": 22, "v": -6, "s": 2}, {"t": 24, "v": -5.2, "s": 2}, {"t": 26, "v": -4.3, "s": 2}, {"t": 28, "v": -3.5, "s": 2},
      {"t": 30, "v": -2.7, "s": 2}, {"t": 32, "v": -1.8, "s": 2}, {"t": 34, "v": -1, "s": 2}, {"t": 36, "v": -0.2, "s": 2},
      {"t": 38, "v": 0.6, "s": 2}, {"t": 40, "v": 1.5, "s": 2}, {"t": 42, "v": 2.3, "s": 2}, {"t": 44, "v": 3.1, "s": 2},
      {"t": 46, "v": 3.9, "s": 2}, {"t": 48, "v": 4.7, "s": 2}, {"t": 50, "v": 5.6, "s": 2}, {"t": 52, "v": 6.4, "s": 2},
      {"t": 54, "v": 7.2, "s": 2}, {"t": 56.1, "v": 8.1, "s": 2},
      {"t": 56.3, "v": 8.2, "s": 3}, {"t": 58.2, "v": 9, "s": 3},
      {"t": 59.35, "v": 9.5, "s": 4}, {"t": 60.47, "v": 10, "s": 4}
    ],
    "noiseBar": [
      {"x": -7, "x2": -7, "y": -20, "y2": 20},
      {"x": -7.45, "x2": -6.55, "y": 20, "y2": 20},
      {"x": -7.45, "x2": -6.55, "y": -20, "y2": -20}
    ],
    "noiseDot": [{"x": -7, "y": 0}],
    "noteLeft": [{"x": -8.08, "y": -95.9, "label": "The latest 1-hour, 1-second sampling"}],
    "noteRight": [{"x": 68.29, "y": -95.9, "label": "End at 2026-07-29 00:00:59 UTC"}],
    "heading": [{"x": 68.34, "y": 107.3, "label": "SCG_054 gravimeter Onsala Space Observatory, Sweden"}],
    "sideNotes": [
      {"x": -4.98, "y": 0, "label": "Typical noise level"},
      {"x": 65.65, "y": 50, "label": "1 DIV = 0.5 hPa/h"},
      {"x": 68.03, "y": 50, "label": "average = -0.0539"}
    ]
  },
  "layer": [
    {
      "data": {"name": "cyanScale"},
      "mark": {"type": "rule", "color": "#5cbcbc", "strokeWidth": 2},
      "encoding": {
        "x": {"field": "x", "type": "quantitative", "scale": {"domain": [-10, 70], "nice": false, "zero": false}, "axis": null},
        "x2": {"field": "x2"},
        "y": {"field": "y", "type": "quantitative", "scale": {"domain": [-100, 100], "nice": false, "zero": false}, "axis": null},
        "y2": {"field": "y2"}
      }
    },
    {
      "data": {"name": "dpdt"},
      "mark": {"type": "line", "strokeWidth": 2.2, "interpolate": "monotone"},
      "encoding": {
        "x": {"field": "t", "type": "quantitative", "scale": {"domain": [-10, 70], "nice": false, "zero": false}, "axis": null},
        "y": {"field": "v", "type": "quantitative", "scale": {"domain": [-7.5, 2.5], "nice": false, "zero": false}, "axis": null},
        "detail": {"field": "s", "type": "nominal"},
        "color": {"datum": "dP/dt low-passed", "scale": {"domain": ["Pressure", "dP/dt low-passed", "Residual", "... last 10 min.", "Theor.Tide"], "range": ["#0000ff", "#00c4c4", "#000000", "#c4c4c4", "#ff0000"]}}
      }
    },
    {
      "data": {"name": "pres"},
      "mark": {"type": "line", "strokeWidth": 1.5},
      "encoding": {
        "x": {"field": "t", "type": "quantitative", "scale": {"domain": [-10, 70], "nice": false, "zero": false}, "axis": null},
        "y": {"field": "p", "type": "quantitative", "scale": {"domain": [1009, 1015], "nice": false, "zero": false},
          "axis": {"orient": "right", "values": [1012.5, 1013, 1013.5, 1014, 1014.5], "format": ".1f", "tickSize": 11,
            "labelAlign": "left", "labelPadding": 10, "title": "Pressure [hPa]", "titleAngle": 270, "titleX": 169, "titleY": 199.5,
            "titleAlign": "center", "titleBaseline": "alphabetic"}},
        "detail": {"field": "s", "type": "nominal"},
        "color": {"datum": "Pressure", "scale": {"domain": ["Pressure", "dP/dt low-passed", "Residual", "... last 10 min.", "Theor.Tide"], "range": ["#0000ff", "#00c4c4", "#000000", "#c4c4c4", "#ff0000"]}}
      }
    },
    {
      "data": {"name": "pres"},
      "mark": {"type": "point", "filled": true, "size": 24, "color": "#0000ff", "opacity": 1},
      "encoding": {
        "x": {"field": "t", "type": "quantitative", "scale": {"domain": [-10, 70], "nice": false, "zero": false}, "axis": null},
        "y": {"field": "p", "type": "quantitative", "scale": {"domain": [1009, 1015], "nice": false, "zero": false},
          "axis": {"orient": "right", "values": [1012.1, 1012.2, 1012.3, 1012.4, 1012.6, 1012.7, 1012.8, 1012.9, 1013.1, 1013.2, 1013.3, 1013.4, 1013.6, 1013.7, 1013.8, 1013.9, 1014.1, 1014.2, 1014.3, 1014.4, 1014.6, 1014.7, 1014.8, 1014.9],
            "tickSize": 6, "labels": false, "title": null}}
      }
    },
    {
      "data": {"name": "res"},
      "mark": {"type": "line", "strokeWidth": 1},
      "encoding": {
        "x": {"field": "t", "type": "quantitative", "scale": {"domain": [-10, 70], "nice": false, "zero": false},
          "axis": {"orient": "bottom", "values": [-10, 0, 10, 20, 30, 40, 50, 60, 70], "labelExpr": "toString(datum.value)", "tickSize": 11, "labelPadding": 10,
            "title": "Time [min] from 2026-07-28 23:01:00 UTC", "titleY": 104, "titleBaseline": "alphabetic"}},
        "y": {"field": "r", "type": "quantitative", "scale": {"domain": [-100, 100], "nice": false, "zero": false},
          "axis": {"orient": "left", "values": [-100, -80, -60, -40, -20, 0, 20, 40, 60, 80, 100], "labelExpr": "toString(datum.value)", "tickSize": 11, "labelPadding": 7,
            "title": "Obs’d Gravity [nm/s²]", "titleAngle": 270, "titleX": -104, "titleY": 396, "titleAlign": "center", "titleBaseline": "alphabetic"}},
        "detail": {"field": "s", "type": "nominal"},
        "color": {"datum": "Residual",
          "scale": {"domain": ["Pressure", "dP/dt low-passed", "Residual", "... last 10 min.", "Theor.Tide"], "range": ["#0000ff", "#00c4c4", "#000000", "#c4c4c4", "#ff0000"]},
          "legend": {
            "title": null,
            "labelExpr": "datum.label + '\u00a0\u00a0\u00a0\u00a0\u00a0\u00a0\u00a0\u00a0\u00a0\u00a0\u200b'",
            "encode": {"symbols": {"update": {
              "shape": {"signal": "(datum.value == 'Residual' || datum.value == '... last 10 min.') ? 'M-2.8,0H2.8' : 'M-2.8,0H2.8M-0.45,0A0.45,0.45,0,1,1,0.45,0A0.45,0.45,0,1,1,-0.45,0Z'"},
              "strokeWidth": {"signal": "datum.value == 'Residual' ? 3 : (datum.value == '... last 10 min.' ? 4 : 1)"},
              "fill": {"signal": "scale('color', datum.value)"},
              "stroke": {"signal": "scale('color', datum.value)"},
              "opacity": {"value": 1}
            }}}
          }
        }
      }
    },
    {
      "data": {"name": "yel"},
      "mark": {"type": "line", "strokeWidth": 3, "color": "#c8c800"},
      "encoding": {
        "x": {"field": "t", "type": "quantitative", "scale": {"domain": [-10, 70], "nice": false, "zero": false},
          "axis": {"orient": "bottom", "values": [-10, -9, -8, -7, -6, -5, -4, -3, -2, -1, 0, 1, 2, 3, 4, 5, 6, 7, 8, 9, 10, 11, 12, 13, 14, 15, 16, 17, 18, 19, 20, 21, 22, 23, 24, 25, 26, 27, 28, 29, 30, 31, 32, 33, 34, 35, 36, 37, 38, 39, 40, 41, 42, 43, 44, 45, 46, 47, 48, 49, 50, 51, 52, 53, 54, 55, 56, 57, 58, 59, 60, 61, 62, 63, 64, 65, 66, 67, 68, 69, 70],
            "tickSize": 5, "labels": false, "title": null}},
        "y": {"field": "r", "type": "quantitative", "scale": {"domain": [-100, 100], "nice": false, "zero": false},
          "axis": {"orient": "left", "values": [-90, -70, -50, -30, -10, 10, 30, 50, 70, 90], "tickSize": 6, "labels": false, "title": null}},
        "detail": {"field": "s", "type": "nominal"}
      }
    },
    {
      "data": {"name": "last"},
      "mark": {"type": "line", "strokeWidth": 2.5},
      "encoding": {
        "x": {"field": "t", "type": "quantitative", "scale": {"domain": [-10, 70], "nice": false, "zero": false},
          "axis": {"orient": "top", "values": [-10, 0, 10, 20, 30, 40, 50, 60, 70], "tickSize": 11, "labels": false, "title": null}},
        "y": {"field": "g", "type": "quantitative", "scale": {"domain": [-100, 100], "nice": false, "zero": false}, "axis": null},
        "detail": {"field": "s", "type": "nominal"},
        "color": {"datum": "... last 10 min.", "scale": {"domain": ["Pressure", "dP/dt low-passed", "Residual", "... last 10 min.", "Theor.Tide"], "range": ["#0000ff", "#00c4c4", "#000000", "#c4c4c4", "#ff0000"]}}
      }
    },
    {
      "data": {"name": "grayBar"},
      "mark": {"type": "rule", "color": "#c0c0c0", "strokeWidth": 4},
      "encoding": {
        "x": {"field": "x", "type": "quantitative", "scale": {"domain": [-10, 70], "nice": false, "zero": false},
          "axis": {"orient": "top", "values": [-10, -9, -8, -7, -6, -5, -4, -3, -2, -1, 0, 1, 2, 3, 4, 5, 6, 7, 8, 9, 10, 11, 12, 13, 14, 15, 16, 17, 18, 19, 20, 21, 22, 23, 24, 25, 26, 27, 28, 29, 30, 31, 32, 33, 34, 35, 36, 37, 38, 39, 40, 41, 42, 43, 44, 45, 46, 47, 48, 49, 50, 51, 52, 53, 54, 55, 56, 57, 58, 59, 60, 61, 62, 63, 64, 65, 66, 67, 68, 69, 70],
            "tickSize": 5, "labels": false, "title": null}},
        "x2": {"field": "x2"},
        "y": {"field": "y", "type": "quantitative", "scale": {"domain": [-100, 100], "nice": false, "zero": false}, "axis": null},
        "y2": {"field": "y2"}
      }
    },
    {
      "data": {"name": "tide"},
      "mark": {"type": "line", "strokeWidth": 4.5, "strokeCap": "round"},
      "encoding": {
        "x": {"field": "t", "type": "quantitative", "scale": {"domain": [-10, 70], "nice": false, "zero": false}, "axis": null},
        "y": {"field": "v", "type": "quantitative", "scale": {"domain": [-1500, 4500], "nice": false, "zero": false},
          "axis": {"orient": "right", "values": [-1500, -1000, -500, 0, 500, 1000], "labelExpr": "toString(datum.value)", "tickSize": 11,
            "labelAlign": "right", "labelPadding": 81, "title": "Tide [nm/s²]", "titleAngle": 270, "titleX": 155, "titleY": 594.5,
            "titleAlign": "center", "titleBaseline": "alphabetic"}},
        "detail": {"field": "s", "type": "nominal"},
        "color": {"datum": "Theor.Tide", "scale": {"domain": ["Pressure", "dP/dt low-passed", "Residual", "... last 10 min.", "Theor.Tide"], "range": ["#0000ff", "#00c4c4", "#000000", "#c4c4c4", "#ff0000"]}}
      }
    },
    {
      "data": {"name": "tide"},
      "mark": {"type": "point", "filled": true, "size": 16, "color": "#ff0000", "opacity": 1},
      "encoding": {
        "x": {"field": "t", "type": "quantitative", "scale": {"domain": [-10, 70], "nice": false, "zero": false}, "axis": null},
        "y": {"field": "v", "type": "quantitative", "scale": {"domain": [-1500, 4500], "nice": false, "zero": false},
          "axis": {"orient": "right", "values": [-1400, -1300, -1200, -1100, -900, -800, -700, -600, -400, -300, -200, -100, 100, 200, 300, 400, 600, 700, 800, 900, 1100, 1200, 1300, 1400],
            "tickSize": 6, "labels": false, "title": null}}
      }
    },
    {
      "data": {"name": "noiseBar"},
      "mark": {"type": "rule", "color": "#c8c8c8", "strokeWidth": 2.5},
      "encoding": {
        "x": {"field": "x", "type": "quantitative", "scale": {"domain": [-10, 70], "nice": false, "zero": false}, "axis": null},
        "x2": {"field": "x2"},
        "y": {"field": "y", "type": "quantitative", "scale": {"domain": [-100, 100], "nice": false, "zero": false}, "axis": null},
        "y2": {"field": "y2"}
      }
    },
    {
      "data": {"name": "noiseDot"},
      "mark": {"type": "point", "filled": true, "size": 55, "color": "black", "opacity": 1},
      "encoding": {
        "x": {"field": "x", "type": "quantitative", "scale": {"domain": [-10, 70], "nice": false, "zero": false}, "axis": null},
        "y": {"field": "y", "type": "quantitative", "scale": {"domain": [-100, 100], "nice": false, "zero": false}, "axis": null}
      }
    },
    {
      "data": {"name": "noteLeft"},
      "mark": {"type": "text", "font": "Liberation Sans", "fontSize": 27.8, "fontWeight": "bold", "align": "left", "baseline": "alphabetic", "color": "black"},
      "encoding": {
        "x": {"field": "x", "type": "quantitative", "scale": {"domain": [-10, 70], "nice": false, "zero": false}, "axis": null},
        "y": {"field": "y", "type": "quantitative", "scale": {"domain": [-100, 100], "nice": false, "zero": false}, "axis": null},
        "text": {"field": "label"}
      }
    },
    {
      "data": {"name": "noteRight"},
      "mark": {"type": "text", "font": "Liberation Sans", "fontSize": 27.8, "fontWeight": "bold", "align": "right", "baseline": "alphabetic", "color": "black"},
      "encoding": {
        "x": {"field": "x", "type": "quantitative", "scale": {"domain": [-10, 70], "nice": false, "zero": false}, "axis": null},
        "y": {"field": "y", "type": "quantitative", "scale": {"domain": [-100, 100], "nice": false, "zero": false}, "axis": null},
        "text": {"field": "label"}
      }
    },
    {
      "data": {"name": "heading"},
      "mark": {"type": "text", "font": "Liberation Sans", "fontSize": 32.3, "fontWeight": "bold", "align": "right", "baseline": "alphabetic", "color": "black"},
      "encoding": {
        "x": {"field": "x", "type": "quantitative", "scale": {"domain": [-10, 70], "nice": false, "zero": false}, "axis": null},
        "y": {"field": "y", "type": "quantitative", "scale": {"domain": [-100, 100], "nice": false, "zero": false}, "axis": null},
        "text": {"field": "label"}
      }
    },
    {
      "data": {"name": "sideNotes"},
      "mark": {"type": "text", "font": "Liberation Sans", "fontSize": 23.5, "angle": 270, "align": "center", "baseline": "alphabetic", "color": "black"},
      "encoding": {
        "x": {"field": "x", "type": "quantitative", "scale": {"domain": [-10, 70], "nice": false, "zero": false}, "axis": null},
        "y": {"field": "y", "type": "quantitative", "scale": {"domain": [-100, 100], "nice": false, "zero": false}, "axis": null},
        "text": {"field": "label"}
      }
    }
  ]
}
